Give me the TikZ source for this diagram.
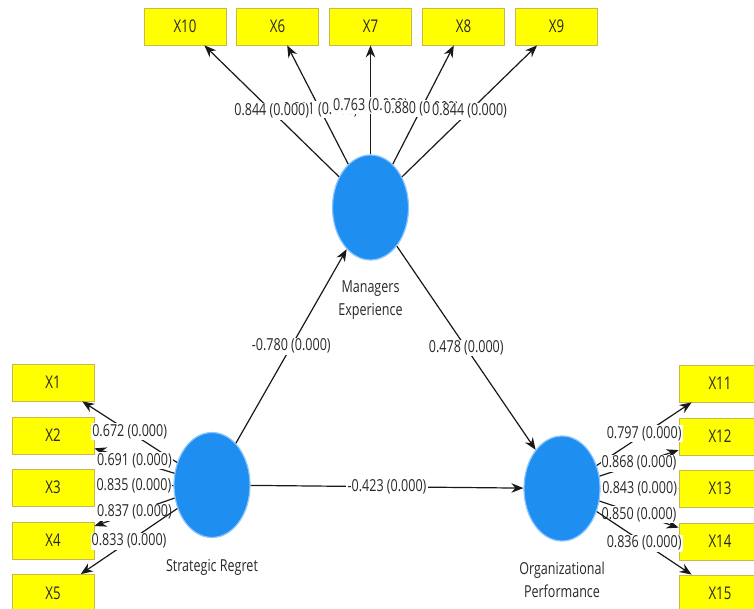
\documentclass[tikz,border=0pt]{standalone}
\usepackage{fontspec}
\setmainfont[FakeStretch=0.76]{Open Sans}
\usetikzlibrary{arrows.meta,shapes.geometric}
\definecolor{lvblue}{HTML}{1E8FF0}
\definecolor{lvedge}{HTML}{8CC4FF}
\definecolor{mvyellow}{HTML}{FFFF00}
\definecolor{mvedge}{HTML}{C8B850}
\definecolor{txt}{HTML}{282828}
\tikzset{
 mvbox/.style={draw=mvedge, line width=0.8pt, fill=mvyellow, minimum width=82pt, minimum height=37pt, inner sep=0pt, text=txt, font=\fontsize{17.5}{17.5}\selectfont},
 lvnode/.style={ellipse, draw=lvedge, line width=1.2pt, fill=lvblue, minimum width=76pt, minimum height=105pt, inner sep=0pt},
 conn/.style={line width=1.2pt, draw=black!90, -{Stealth[length=12pt,width=9.5pt]}},
 coef/.style={fill=white, inner sep=1.2pt, text=txt, font=\fontsize{16.5}{17}\selectfont},
 lvlabel/.style={font=\fontsize{16.5}{23}\selectfont, align=center, text=txt}
}
\begin{document}
\begin{tikzpicture}[x=1pt,y=-1pt]
\useasboundingbox (0,0) rectangle (754,609);
\clip (0,0) rectangle (754,609);
% latent variables
\node[lvnode] (ME) at (370.5,207.5) {};
\node[lvnode] (SR) at (212,485) {};
\node[lvnode] (OP) at (562,488.5) {};
\node[lvlabel] (MEl) at (370.5,300) {Managers\\Experience};
\node[lvlabel] (SRl) at (212,567) {Strategic Regret};
\node[lvlabel] (OPl) at (562,580) {Organizational\\Performance};
% top indicators
\node[mvbox] (X10) at (185,26.5) {X10};
\node[mvbox] (X6) at (277.5,26.5) {X6};
\node[mvbox] (X7) at (370.5,26.5) {X7};
\node[mvbox] (X8) at (463.5,26.5) {X8};
\node[mvbox] (X9) at (556.5,26.5) {X9};
% left indicators
\node[mvbox] (X1) at (53,382.5) {X1};
\node[mvbox] (X2) at (53,435.5) {X2};
\node[mvbox] (X3) at (53,487.5) {X3};
\node[mvbox] (X4) at (53,540.5) {X4};
\node[mvbox] (X5) at (53,593) {X5};
% right indicators
\node[mvbox] (X11) at (720,383.5) {X11};
\node[mvbox] (X12) at (720,436.5) {X12};
\node[mvbox] (X13) at (720,488.5) {X13};
\node[mvbox] (X14) at (720,541.5) {X14};
\node[mvbox] (X15) at (720,593.5) {X15};
% outer loadings, Managers Experience
\draw[conn] (ME) -- node[coef, pos=0.46] {0.811 (0.000)} (X6);
\draw[conn] (ME) -- node[coef, pos=0.45] {0.763 (0.000)} (X7);
\draw[conn] (ME) -- node[coef, pos=0.47] {0.880 (0.000)} (X8);
\draw[conn] (ME) -- node[coef, midway] {0.844 (0.000)} (X9);
\draw[conn] (ME) -- node[coef, midway] {0.844 (0.000)} (X10);
% outer loadings, Strategic Regret
\draw[conn] (SR) -- node[coef, midway] {0.672 (0.000)} (X1);
\draw[conn] (SR) -- node[coef, midway] {0.691 (0.000)} (X2);
\draw[conn] (SR) -- node[coef, midway] {0.835 (0.000)} (X3);
\draw[conn] (SR) -- node[coef, midway] {0.837 (0.000)} (X4);
\draw[conn] (SR) -- node[coef, midway] {0.833 (0.000)} (X5);
% outer loadings, Organizational Performance
\draw[conn] (OP) -- node[coef, midway] {0.797 (0.000)} (X11);
\draw[conn] (OP) -- node[coef, midway] {0.868 (0.000)} (X12);
\draw[conn] (OP) -- node[coef, midway] {0.843 (0.000)} (X13);
\draw[conn] (OP) -- node[coef, midway] {0.850 (0.000)} (X14);
\draw[conn] (OP) -- node[coef, midway] {0.836 (0.000)} (X15);
% structural paths
\draw[conn] (SR) -- node[coef, midway] {-0.780 (0.000)} (ME);
\draw[conn] (ME) -- node[coef, midway] {0.478 (0.000)} (OP);
\draw[conn] (SR) -- node[coef, midway] {-0.423 (0.000)} (OP);
\end{tikzpicture}
\end{document}
